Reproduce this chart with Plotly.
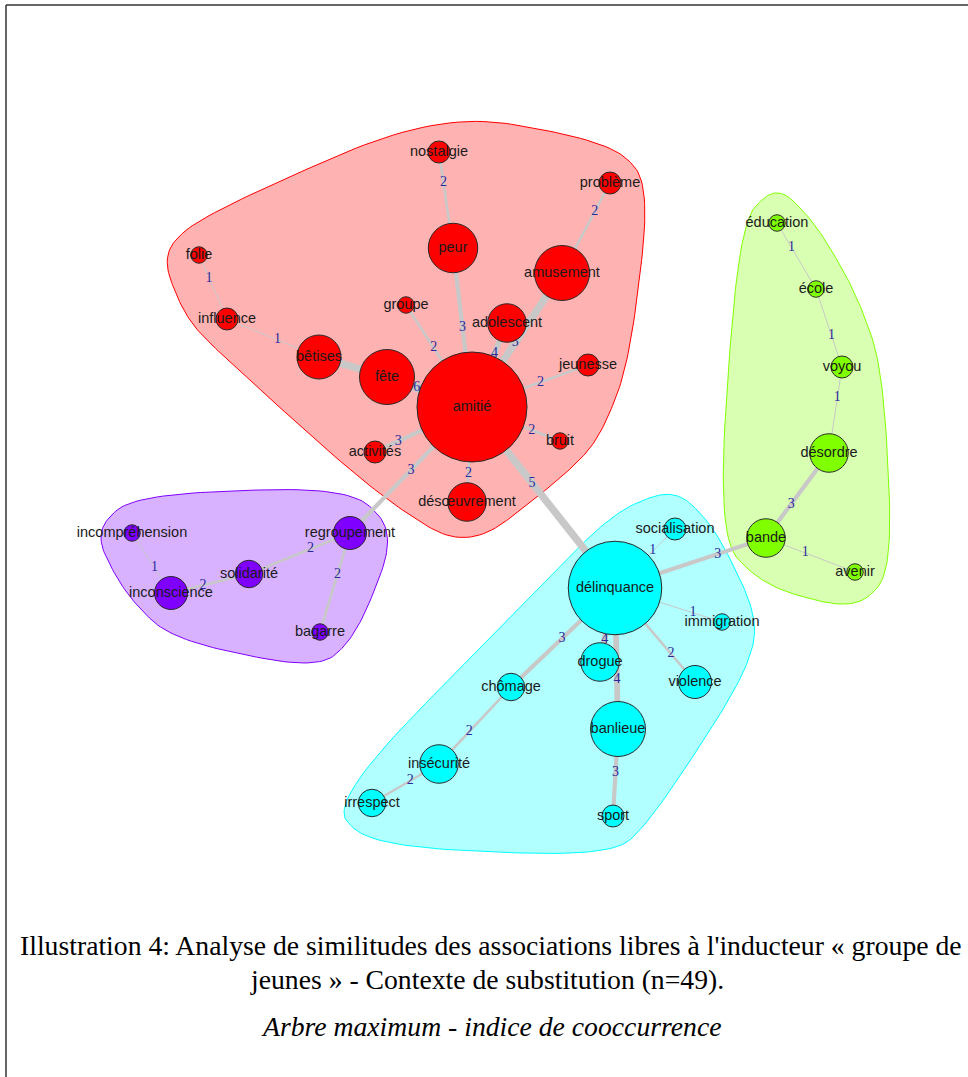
import numpy as np
import plotly.graph_objects as go

# --- données : mots, fréquences, communautés, position du layout (px) ---
words = ["amitié", "peur", "amusement", "nostalgie", "problème", "folie", "influence",
         "groupe", "adolescent", "bêtises", "fête", "jeunesse", "bruit", "activités",
         "désœuvrement",
         "incompréhension", "regroupement", "solidarité", "inconscience", "bagarre",
         "délinquance", "socialisation", "immigration", "drogue", "violence", "chômage",
         "banlieue", "insécurité", "irrespect", "sport",
         "éducation", "école", "voyou", "désordre", "bande", "avenir"]
freq = [20, 9, 10, 4, 4, 3, 4, 3, 7, 8, 10, 4, 3, 4, 7,
        3, 6, 5, 6, 3,
        17, 4, 3, 7, 6, 5, 10, 7, 5, 4,
        3, 3, 4, 7, 7, 3]
community = [0] * 15 + [1] * 5 + [2] * 10 + [3] * 6
layout_x = [472, 453, 562, 439, 610, 199, 227, 406, 507, 319, 387, 588, 560, 375, 467,
            132, 350, 249, 171, 320,
            615, 675, 722, 600, 695, 511, 618, 439, 372, 613,
            777, 816, 842, 829, 766, 855]
layout_y = [407, 248, 273, 152, 183, 255, 319, 305, 323, 357, 377, 365, 441, 452, 502,
            533, 533, 574, 593, 632,
            588, 529, 622, 662, 682, 687, 729, 764, 803, 816,
            223, 289, 367, 453, 538, 572]

# arbre maximum : arêtes et indice de cooccurrence
edge_src = ["nostalgie", "peur", "problème", "amusement", "adolescent", "groupe", "folie",
            "influence", "bêtises", "fête", "jeunesse", "bruit", "activités", "désœuvrement",
            "regroupement", "délinquance",
            "incompréhension", "inconscience", "solidarité", "regroupement",
            "délinquance", "délinquance", "délinquance", "délinquance", "délinquance",
            "délinquance", "délinquance", "chômage", "insécurité", "banlieue",
            "éducation", "école", "voyou", "désordre", "bande"]
edge_dst = ["peur", "amitié", "amusement", "amitié", "amitié", "amitié", "influence",
            "bêtises", "fête", "amitié", "amitié", "amitié", "amitié", "amitié",
            "amitié", "amitié",
            "inconscience", "solidarité", "regroupement", "bagarre",
            "socialisation", "bande", "immigration", "drogue", "banlieue",
            "chômage", "violence", "insécurité", "irrespect", "sport",
            "école", "voyou", "désordre", "bande", "avenir"]
edge_weight = [2, 3, 2, 5, 4, 2, 1,
               1, 5, 6, 2, 2, 3, 2,
               3, 5,
               1, 2, 2, 2,
               1, 3, 1, 4, 4,
               3, 2, 2, 2, 3,
               1, 1, 1, 3, 1]
edge_label_shown = [True] * len(edge_weight)
edge_label_shown[8] = False  # bêtises - fête : étiquette non affichée
label_t = [0.32, 0.5, 0.32, 0.52, 0.36, 0.42, 0.36,
           0.55, 0.5, 0.35, 0.41, 0.32, 0.24, 0.3,
           0.5, 0.58,
           0.58, 0.41, 0.61, 0.42,
           0.63, 0.68, 0.73, 0.69, 0.65,
           0.51, 0.7, 0.58, 0.43, 0.5,
           0.37, 0.6, 0.36, 0.6, 0.44]

node_colors = ["#FF0000", "#7F00FF", "#00FFFF", "#80FF00"]
hull_fill = ["rgba(255,0,0,0.3)", "rgba(127,0,255,0.3)", "rgba(0,255,255,0.3)", "rgba(128,255,0,0.3)"]

caption1 = "Illustration 4: Analyse de similitudes des associations libres à l'inducteur « groupe de"
caption2 = "jeunes » - Contexte de substitution (n=49)."
caption3 = "Arbre maximum - indice de cooccurrence"

W, H = 968, 1077
X = np.array(layout_x, dtype=float)
Y = np.array(layout_y, dtype=float)
R = 2.75 * np.array(freq, dtype=float)   # rayon du sommet proportionnel à la fréquence
idx = {w: i for i, w in enumerate(words)}


def convex_hull(pts):
    pts = sorted(set(map(tuple, pts)))
    def cross(o, a, b):
        return (a[0] - o[0]) * (b[1] - o[1]) - (a[1] - o[1]) * (b[0] - o[0])
    lower, upper = [], []
    for p in pts:
        while len(lower) >= 2 and cross(lower[-2], lower[-1], p) <= 0:
            lower.pop()
        lower.append(p)
    for p in reversed(pts):
        while len(upper) >= 2 and cross(upper[-2], upper[-1], p) <= 0:
            upper.pop()
        upper.append(p)
    return np.array(lower[:-1] + upper[:-1])


def f_blend(num, den):
    p = 2 * den * den
    u = num / den
    u2 = u * u
    return u * u2 * (10 - p + (2 * p - 15) * u + (6 - p) * u2)


def xspline_closed(P, s=0.5, n=24):
    """X-spline fermée (comme xspline() de R, shape > 0)"""
    t = np.linspace(0, 1, n, endpoint=False)
    A0 = np.where(t < s, f_blend(t - s, -1 - s), 0.0)
    A1 = f_blend(t - 1 - s, -1 - s)
    A2 = f_blend(t + s, 1 + s)
    A3 = np.where(t > 1 - s, f_blend(t - 1 + s, 1 + s), 0.0)
    tot = A0 + A1 + A2 + A3
    m = len(P)
    out = []
    for k in range(m):
        p0, p1, p2, p3 = P[(k - 1) % m], P[k], P[(k + 1) % m], P[(k + 2) % m]
        seg = (np.outer(A0, p0) + np.outer(A1, p1) + np.outer(A2, p2) + np.outer(A3, p3)) / tot[:, None]
        out.append(seg)
    out = np.vstack(out)
    return np.vstack([out, out[:1]])


fig = go.Figure()

# enveloppes des communautés
EXPAND = 30
for g in range(4):
    sel = [i for i in range(len(words)) if community[i] == g]
    pts = []
    for i in sel:
        d = R[i] + EXPAND
        pts += [(X[i], Y[i]), (X[i] - d, Y[i]), (X[i] + d, Y[i]), (X[i], Y[i] - d), (X[i], Y[i] + d)]
    hull = convex_hull(pts)
    curve = xspline_closed(hull)
    fig.add_trace(go.Scatter(
        x=curve[:, 0], y=curve[:, 1], mode="lines", fill="toself",
        fillcolor=hull_fill[g], line=dict(color=node_colors[g], width=1),
        hoverinfo="skip", showlegend=False
    ))

# arêtes
for a, b, w in zip(edge_src, edge_dst, edge_weight):
    i, j = idx[a], idx[b]
    fig.add_trace(go.Scatter(
        x=[X[i], X[j]], y=[Y[i], Y[j]], mode="lines",
        line=dict(color="#c8c8c8", width=1 + 1.6 * (w - 1)),
        hoverinfo="skip", showlegend=False
    ))

# indices sur les arêtes
lx, ly, lt = [], [], []
for a, b, w, t, show in zip(edge_src, edge_dst, edge_weight, label_t, edge_label_shown):
    if not show:
        continue
    i, j = idx[a], idx[b]
    lx.append(X[i] + t * (X[j] - X[i]))
    ly.append(Y[i] + t * (Y[j] - Y[i]))
    lt.append(str(w))
fig.add_trace(go.Scatter(
    x=lx, y=ly, mode="text", text=lt,
    textfont=dict(family="Liberation Serif", size=14, color="#2a2a9c"),
    hoverinfo="skip", showlegend=False
))

# sommets
fig.add_trace(go.Scatter(
    x=X, y=Y, mode="markers",
    marker=dict(size=2 * R, color=[node_colors[c] for c in community], opacity=1,
                line=dict(color="#2a2a2a", width=1)),
    text=words, hoverinfo="text", showlegend=False
))
fig.add_trace(go.Scatter(
    x=X, y=Y, mode="text", text=words,
    textfont=dict(family="Liberation Sans", size=14.5, color="#1a1a1a"),
    hoverinfo="skip", showlegend=False
))

# légende de l'illustration
cap_font = dict(family="Liberation Serif", size=27.7, color="#000000")
fig.add_annotation(x=18, y=945, text=caption1, showarrow=False, xanchor="left", yanchor="middle",
                   font=cap_font)
fig.add_annotation(x=487, y=979, text=caption2, showarrow=False, xanchor="center", yanchor="middle",
                   font=cap_font)
fig.add_annotation(x=491, y=1026, text="<i>" + caption3 + "</i>", showarrow=False,
                   xanchor="center", yanchor="middle", font=cap_font)

# cadre (haut et gauche)
fig.add_shape(type="line", x0=6, y0=5, x1=W, y1=5, line=dict(color="#333333", width=1.5))
fig.add_shape(type="line", x0=6, y0=5, x1=6, y1=H, line=dict(color="#333333", width=1.5))

fig.update_layout(
    width=W, height=H,
    margin=dict(l=0, r=0, t=0, b=0),
    paper_bgcolor="white", plot_bgcolor="white",
    xaxis=dict(range=[0, W], visible=False, fixedrange=True),
    yaxis=dict(range=[H, 0], visible=False, fixedrange=True),
    showlegend=False
)

fig.write_html("out.html", config={"displayModeBar": False},
               post_script="document.body.style.margin='0';document.body.style.overflow='hidden';")
